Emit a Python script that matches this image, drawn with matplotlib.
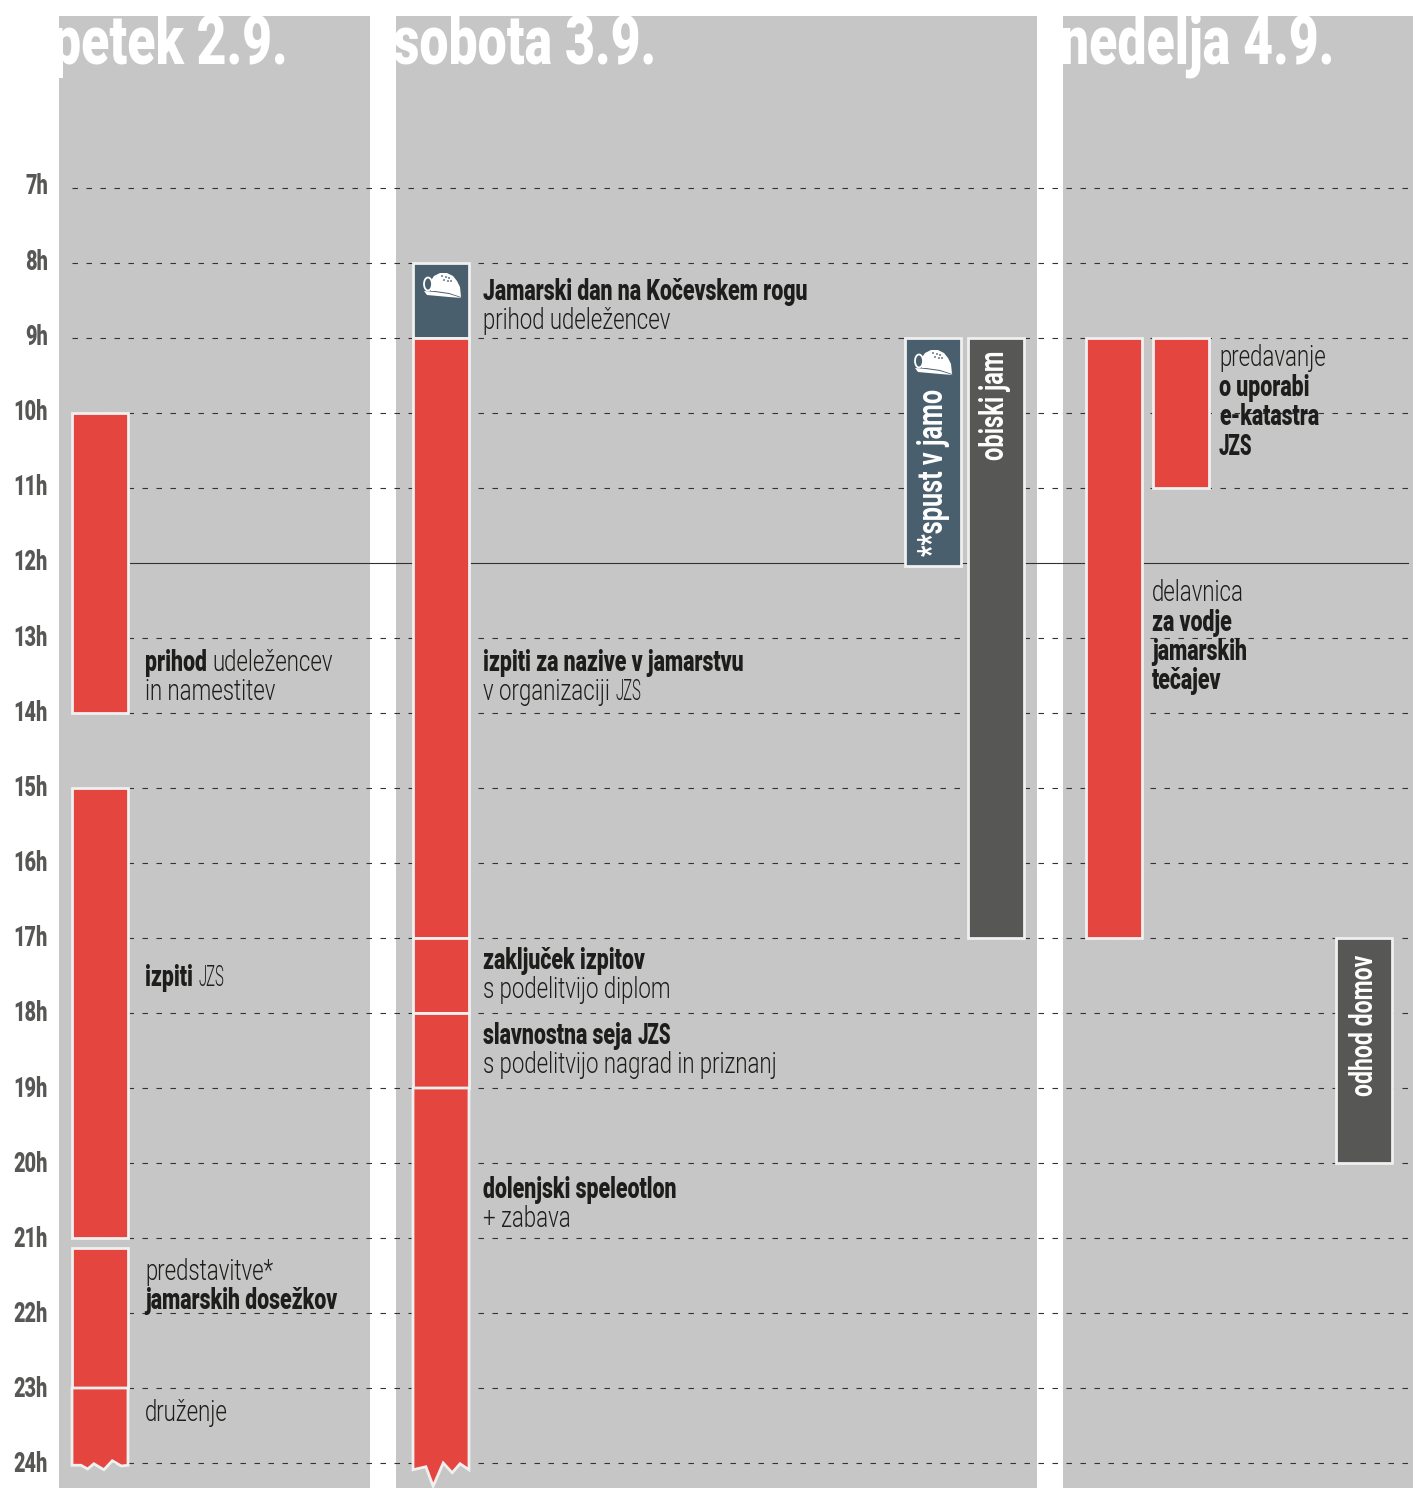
import os
import tempfile
import matplotlib
matplotlib.use("Agg")
import matplotlib.pyplot as plt
from matplotlib import font_manager as fm
from matplotlib.font_manager import FontProperties
from matplotlib.patches import Polygon, Rectangle, Ellipse
from fontTools.ttLib import TTFont

W, H = 1413, 1488
RED, SLATE, DARK, PANEL, EDGE, INK = "#e5453f", "#4a5f6d", "#575756", "#c6c6c6", "#f0f0f0", "#1d1d1b"

day_titles = ["petek 2.9.", "sobota 3.9.", "nedelja 4.9."]
hours = list(range(7, 25))

fri_start = [10, 15, 21.13, 23]
fri_end = [14, 21, 23, 24]
sat_start = [8, 9, 17, 18, 19]
sat_end = [9, 17, 18, 19, 24]
sat_colors = [SLATE, RED, RED, RED, RED]
spust_span = [9, 12.04]
obiski_span = [9, 17]
sun_span_a = [9, 17]
sun_span_b = [9, 11]
odhod_span = [17, 20]


def condensed(weight, scale, tag):
    """Narrow copy of an installed Roboto face, because no condensed family is installed."""
    src = fm.findfont(FontProperties(family="Roboto", weight=weight))
    font = TTFont(src)
    if "fvar" in font:
        from fontTools.varLib import instancer
        axes = {a.axisTag: a.defaultValue for a in font["fvar"].axes}
        axes["wght"] = weight
        font = instancer.instantiateVariableFont(font, axes)
    glyf = font["glyf"]
    for name in glyf.keys():
        g = glyf[name]
        if g.isComposite():
            for c in g.components:
                c.x = round(c.x * scale)
        elif g.numberOfContours > 0:
            g.coordinates.scale((scale, 1))
            g.coordinates.toInt()
        g.removeHinting()
    for name in glyf.keys():
        glyf[name].recalcBounds(glyf)
    hmtx = font["hmtx"]
    for name, (adv, lsb) in list(hmtx.metrics.items()):
        hmtx.metrics[name] = (round(adv * scale), round(lsb * scale))
    if "kern" in font:
        for table in font["kern"].kernTables:
            table.kernTable = {k: round(v * scale) for k, v in table.kernTable.items()}
    for t in ("fpgm", "prep", "cvt ", "hdmx", "VDMX", "LTSH"):
        if t in font:
            del font[t]
    path = os.path.join(tempfile.gettempdir(), f"cond_{tag}.ttf")
    font.save(path)
    return path


LIGHT = condensed(300, 0.74, "light")
LIGHT_CAPS = condensed(300, 0.50, "lightcaps")
BOLD = condensed(900, 0.71, "bold")
BOLD_CAPS = condensed(900, 0.62, "boldcaps")
HEAVY = condensed(900, 0.76, "heavy")
MED = condensed(700, 0.72, "med")
FACES = {"b": BOLD, "l": LIGHT, "lc": LIGHT_CAPS, "bc": BOLD_CAPS}


def fp(path, px):
    return FontProperties(fname=path, size=px * 0.72)


fig = plt.figure(figsize=(W / 100, H / 100), dpi=100)
ax = fig.add_axes([0, 0, 1, 1])
ax.set_xlim(0, W)
ax.set_ylim(24 + 25 / 75, 7 - 188 / 75)
ax.axis("off")
py = lambda p: 7 + (p - 188) / 75

for x0, x1 in [(59, 370), (396, 1037), (1063, 1413)]:
    ax.add_patch(Rectangle((x0, py(16)), x1 - x0, py(H) - py(16), fc=PANEL, ec="none", zorder=1))

for h in hours:
    if h == 12:
        ax.plot([130, 1408], [h, h], color="#333333", lw=0.8, zorder=2)
    else:
        ax.plot([72, 1413], [h, h], color="#333333", lw=0.8, dashes=(4.95, 7.65), dash_capstyle="butt", zorder=2)
    ax.text(48, h + ((h - 7) * 3 / 17 - 1) / 75, f"{h}h", ha="right", va="center",
            fontproperties=fp(BOLD, 28), color=DARK, zorder=5)


def bar(x0, x1, start, end, color, jag=None):
    if jag is None:
        ax.add_patch(Rectangle((x0, start), x1 - x0, end - start, fc=color, ec=EDGE, lw=2.0, zorder=3))
    else:
        pts = [(x0, start), (x1, start)] + [(x0 + fx * (x1 - x0), end + dh) for fx, dh in jag]
        ax.add_patch(Polygon(pts, closed=True, fc=color, ec=EDGE, lw=2.0, zorder=3))


jag_fri = [(1.0, .03), (.88, .04), (.72, -.03), (.57, .09), (.39, .01), (.28, .08), (.16, .03), (0, .03)]
jag_sat = [(1.0, .09), (.84, .01), (.70, .13), (.54, 0), (.36, .31), (.23, .05), (0, .09)]
for i, (s, e) in enumerate(zip(fri_start, fri_end)):
    bar(72, 128, s, e, RED, jag_fri if i == 3 else None)
for i, (s, e, c) in enumerate(zip(sat_start, sat_end, sat_colors)):
    bar(413, 469, s, e, c, jag_sat if i == 4 else None)
bar(905, 961, *spust_span, SLATE)
bar(968, 1024, *obiski_span, DARK)
bar(1086, 1142, *sun_span_a, RED)
bar(1153, 1209, *sun_span_b, RED)
bar(1336, 1392, *odhod_span, DARK)


def helmet(cx, cy):
    dome = [(-13, -2), (-9, -8), (-3, -11), (4, -11), (10, -8), (14, -3), (17, 3), (18, 13),
            (6, 9), (-8, 7), (-12, 7), (-13, 3)]
    ax.add_patch(Polygon([(cx + a, py(cy + b)) for a, b in dome], fc="white", ec="none", zorder=4))
    ax.add_patch(Ellipse((cx - 15, py(cy)), 8, 13 / 75, fc=SLATE, ec="white", lw=1.3, zorder=4))
    brim = [(-19, 7), (-8, 8), (6, 10), (19, 14), (6, 13), (-16, 11)]
    ax.add_patch(Polygon([(cx + a, py(cy + b)) for a, b in brim], fc="white", ec="none", zorder=4))
    for a, b in [(-1, -8), (3, -7), (6, -6), (1, -4), (5, -3), (8, -3)]:
        ax.add_patch(Ellipse((cx + a, py(cy + b)), 1.8, 1.8 / 75, fc=SLATE, ec="none", zorder=4))


helmet(443, 284)
helmet(934, 361)

renderer = fig.canvas.get_renderer()
SIZE = 30


def rich(x, base, runs):
    for txt, face in runs:
        t = ax.text(x, py(base), txt, ha="left", va="baseline",
                    fontproperties=fp(FACES[face], SIZE), color=INK, zorder=6)
        x = t.get_window_extent(renderer).x1 + 6


rich(145, 671, [("prihod", "b"), ("udeležencev", "l")])
rich(145, 700, [("in namestitev", "l")])
rich(145, 986, [("izpiti", "b"), ("JZS", "lc")])
rich(145, 1280, [("predstavitve*", "l")])
rich(145, 1309, [("jamarskih dosežkov", "b")])
rich(145, 1421, [("druženje", "l")])
rich(483, 300, [("Jamarski dan na Kočevskem rogu", "b")])
rich(483, 329, [("prihod udeležencev", "l")])
rich(483, 671, [("izpiti za nazive v jamarstvu", "b")])
rich(483, 700, [("v organizaciji", "l"), ("JZS", "lc")])
rich(483, 969, [("zaključek izpitov", "b")])
rich(483, 998, [("s podelitvijo diplom", "l")])
rich(483, 1044, [("slavnostna seja", "b"), ("JZS", "bc")])
rich(483, 1073, [("s podelitvijo nagrad in priznanj", "l")])
rich(483, 1198, [("dolenjski speleotlon", "b")])
rich(483, 1227, [("+ zabava", "l")])
rich(1219, 366, [("predavanje", "l")])
rich(1219, 396, [("o uporabi", "b")])
rich(1219, 425, [("e-katastra", "b")])
rich(1219, 455, [("JZS", "bc")])
rich(1152, 601, [("delavnica", "l")])
rich(1152, 631, [("za vodje", "b")])
rich(1152, 660, [("jamarskih", "b")])
rich(1152, 689, [("tečajev", "b")])

for x, base, txt, size in [(933, 556, "**spust v jamo", 35), (995, 460, "obiski jam", 33),
                           (1364, 1096, "odhod domov", 32)]:
    ax.text(x, py(base), txt, rotation=90, ha="center", va="bottom",
            fontproperties=fp(MED, size), color="white", zorder=6)

for x, txt in zip([288, 656, 1334], day_titles):
    ax.text(x, py(64), txt, ha="right", va="baseline", fontproperties=fp(HEAVY, 68), color="white", zorder=6)

fig.savefig("out.png", dpi=100)
